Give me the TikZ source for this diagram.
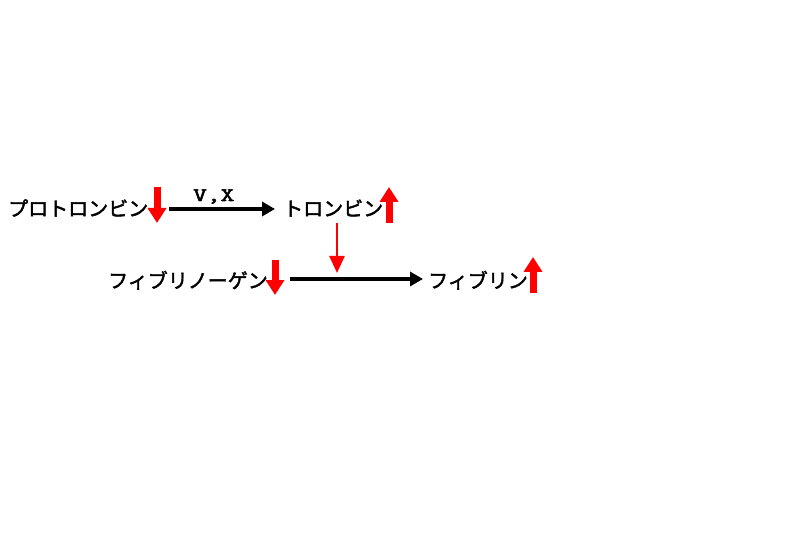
\documentclass[tikz,border=0pt]{standalone}
\usepackage{fontspec}
\newfontfamily\jpfont[FakeBold=2]{Noto Sans CJK JP}
\newfontfamily\lblfont[FakeBold=3,FakeStretch=1.4]{Latin Modern Mono}
\usetikzlibrary{arrows.meta}
\tikzset{
  jtext/.style={inner sep=0pt, anchor=base west, font=\jpfont\fontsize{20}{24}\selectfont},
  lbl/.style={inner sep=0pt, font=\lblfont\fontsize{19}{21}\selectfont},
  blk/.style={line width=3.5pt, -{Triangle[width=14pt,length=13pt]}},
  fatred/.style={red, line width=7pt, -{Triangle[width=18pt,length=15pt]}},
  thinred/.style={red, line width=2.5pt, -{Triangle[width=15pt,length=17pt]}}
}
\begin{document}
\begin{tikzpicture}[x=1pt,y=-1pt]
\fill[white] (0,0) rectangle (800,537);
\useasboundingbox (0,0) rectangle (800,537);
% nodes
\node[jtext] (pro) at (8,216) {プロトロンビン};
\node[jtext] (thr) at (283,216) {トロンビン};
\node[jtext] (fbg) at (108,288) {フィブリノーゲン};
\node[jtext] (fib) at (428,288) {フィブリン};
% coordinates
\coordinate (a1s) at (169,209);
\coordinate (a1e) at (275,209);
\coordinate (a2s) at (290,279);
\coordinate (a2e) at (423,279);
\coordinate (d1s) at (157,187);
\coordinate (d1e) at (157,223);
\coordinate (u1s) at (389,223);
\coordinate (u1e) at (389,187);
\coordinate (d2s) at (275,260);
\coordinate (d2e) at (275,295);
\coordinate (u2s) at (533,293);
\coordinate (u2e) at (533,257);
\coordinate (ts) at (337,223);
\coordinate (te) at (337,273);
% connectors
\draw[blk] (a1s) -- (a1e);
\node[lbl, anchor=base west] (vx) at (193,201) {V,X};
\draw[blk] (a2s) -- (a2e);
\draw[fatred] (d1s) -- (d1e);
\draw[fatred] (u1s) -- (u1e);
\draw[fatred] (d2s) -- (d2e);
\draw[fatred] (u2s) -- (u2e);
\draw[thinred] (ts) -- (te);
\end{tikzpicture}
\end{document}
